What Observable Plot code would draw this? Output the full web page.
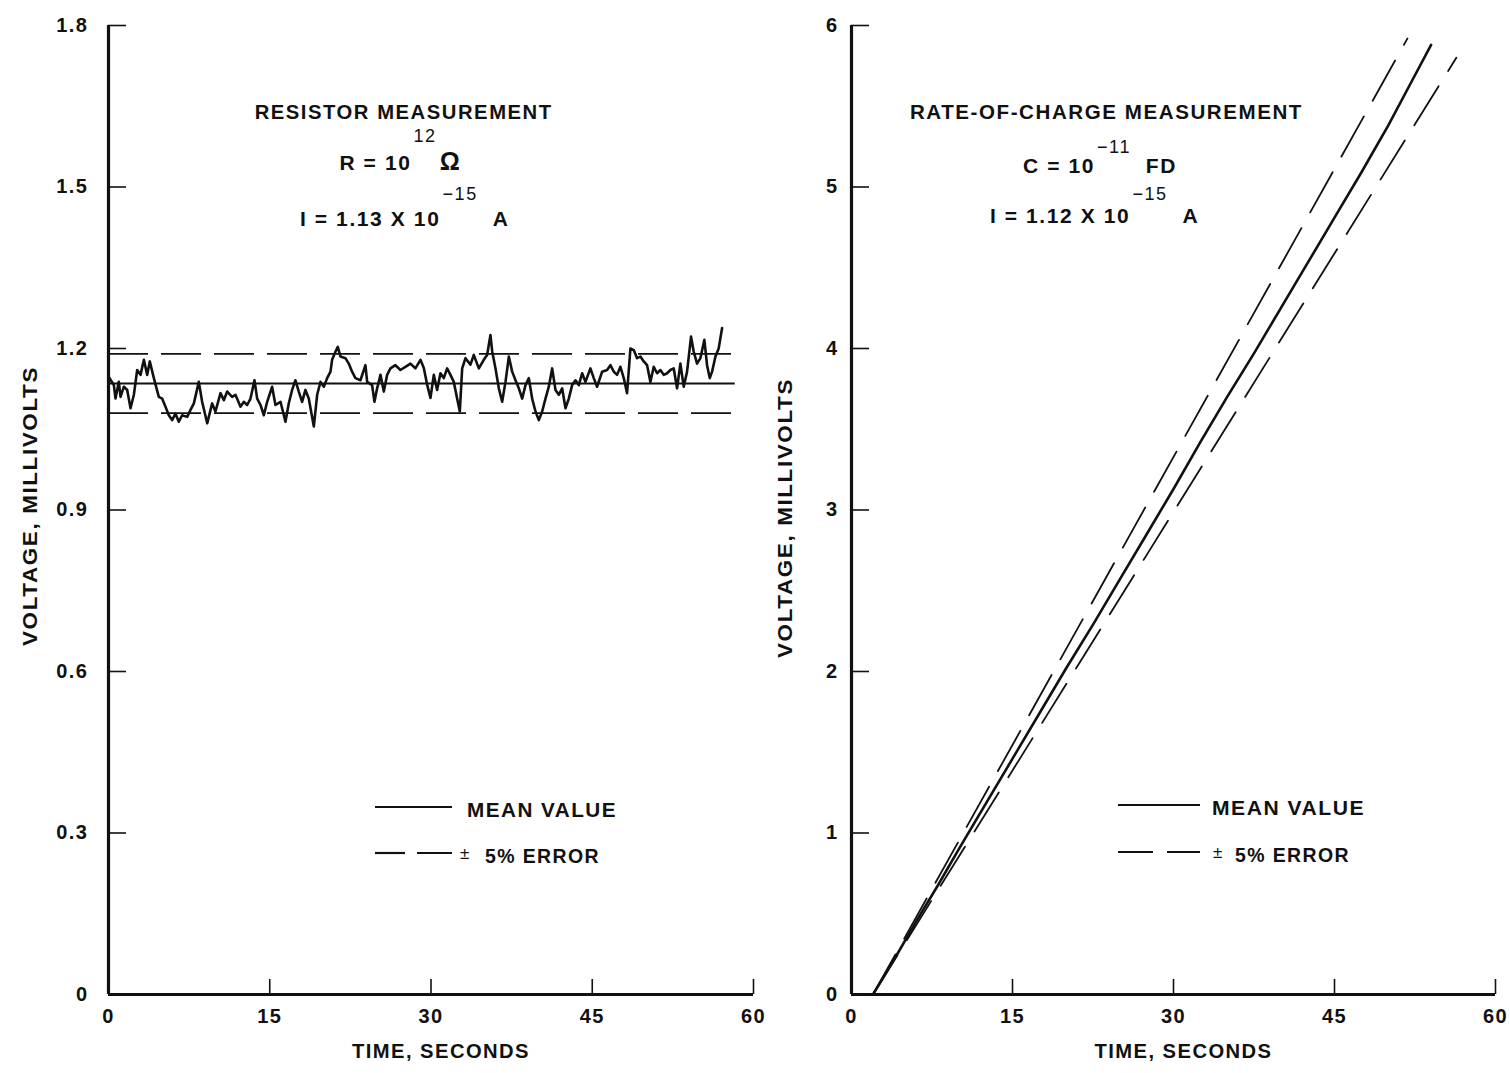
<!DOCTYPE html>
<html><head><meta charset="utf-8">
<script src="https://cdn.jsdelivr.net/npm/d3@7"></script>
<script src="https://cdn.jsdelivr.net/npm/@observablehq/plot@0.6"></script>
<style>
body{margin:0;background:#fff}
#wrap{position:relative;width:1510px;height:1073px;background:#fff;overflow:hidden}
#wrap > svg{position:absolute;top:0;background:transparent;overflow:visible;letter-spacing:1.5px}
</style></head><body><div id="wrap"></div>
<script>
const FONT = '"Liberation Sans",Arial,"Helvetica",sans-serif';
const INK = "#111";

// ---- axes ----
const xTicks = [0, 15, 30, 45, 60];
const yTicksLeft = [0, 0.3, 0.6, 0.9, 1.2, 1.5, 1.8];
const yTicksRight = [0, 1, 2, 3, 4, 5, 6];
const xLabel = "TIME, SECONDS";
const yLabel = "VOLTAGE, MILLIVOLTS";

// ---- left panel: resistor measurement (time s, voltage mV) ----
const resTime = [0.00,0.50,0.65,0.96,1.12,1.43,1.74,2.05,2.36,2.67,2.98,3.29,3.60,3.84,4.22,4.68,4.99,5.30,5.61,5.92,6.23,6.54,6.85,7.32,7.63,7.94,8.40,8.71,9.18,9.64,9.95,10.42,10.73,11.04,11.50,11.81,12.28,12.59,12.90,13.21,13.58,13.83,14.14,14.45,14.76,15.22,15.53,16.00,16.46,16.77,17.08,17.39,17.70,18.01,18.32,18.63,19.10,19.41,19.72,20.03,20.34,20.65,20.80,21.11,21.33,21.58,22.04,22.35,22.66,22.97,23.44,23.90,24.06,24.52,24.74,24.99,25.30,25.61,25.92,26.23,26.69,27.16,27.62,28.09,28.55,29.02,29.33,29.64,29.95,30.26,30.57,30.88,31.19,31.50,31.81,32.12,32.43,32.68,32.90,33.21,33.67,33.98,34.45,34.91,35.22,35.53,35.69,36.00,36.31,36.62,36.93,37.24,37.55,37.86,38.17,38.48,38.79,39.10,39.41,39.72,40.03,40.34,40.65,40.96,41.27,41.58,41.89,42.20,42.51,42.82,43.13,43.44,43.75,44.06,44.37,44.83,45.14,45.45,45.92,46.38,46.69,47.00,47.31,47.62,47.93,48.24,48.55,48.86,49.17,49.48,49.79,50.10,50.41,50.72,51.03,51.34,51.65,51.96,52.27,52.58,52.89,53.20,53.51,53.82,54.19,54.44,54.75,55.06,55.43,55.68,55.93,56.15,56.46,56.76,57.08];
const resVolt = [1.148,1.132,1.107,1.138,1.110,1.129,1.123,1.089,1.114,1.160,1.151,1.179,1.151,1.176,1.145,1.110,1.107,1.092,1.076,1.067,1.079,1.064,1.076,1.073,1.086,1.098,1.138,1.101,1.061,1.098,1.083,1.117,1.104,1.120,1.110,1.114,1.092,1.101,1.095,1.107,1.141,1.107,1.095,1.076,1.101,1.129,1.095,1.101,1.064,1.098,1.123,1.141,1.120,1.101,1.123,1.107,1.055,1.114,1.138,1.129,1.145,1.157,1.179,1.194,1.203,1.185,1.182,1.172,1.157,1.145,1.141,1.169,1.138,1.132,1.101,1.126,1.151,1.120,1.151,1.163,1.169,1.160,1.166,1.172,1.163,1.179,1.164,1.133,1.108,1.151,1.123,1.154,1.145,1.163,1.151,1.138,1.107,1.083,1.163,1.182,1.170,1.188,1.163,1.179,1.188,1.225,1.195,1.163,1.126,1.101,1.138,1.185,1.157,1.141,1.126,1.107,1.132,1.145,1.107,1.083,1.067,1.083,1.107,1.129,1.163,1.123,1.114,1.126,1.089,1.107,1.132,1.141,1.132,1.154,1.138,1.163,1.145,1.129,1.157,1.160,1.169,1.157,1.151,1.166,1.145,1.117,1.200,1.197,1.182,1.185,1.176,1.169,1.138,1.166,1.154,1.160,1.151,1.154,1.160,1.163,1.126,1.172,1.129,1.157,1.222,1.194,1.172,1.182,1.216,1.169,1.145,1.157,1.185,1.200,1.238];
const resMean = 1.135;
const resBand = [1.19, 1.08];      // ±5 %
const resLineEnd = 58.3;           // s, where mean / band lines stop

// ---- right panel: rate-of-charge measurement ----
const rocTime = [2, 4, 6, 8, 10, 12.5, 15, 17.5, 20, 22.5, 25, 27.5, 30, 32.5, 35, 37.5, 40, 42.5, 45, 47.5, 50, 52, 54];
const rocVolt = [0, 0.22, 0.45, 0.67, 0.90, 1.18, 1.46, 1.74, 2.02, 2.29, 2.57, 2.85, 3.13, 3.42, 3.70, 3.97, 4.25, 4.53, 4.81, 5.09, 5.38, 5.63, 5.88];
const rocUpperTime = [2, 51.8];
const rocUpperVolt = [0, 5.92];
const rocLowerTime = [2, 56.35];
const rocLowerVolt = [0, 5.80];

// ---- annotation texts ----
const leftNotes = [
  {x: 27.5, y: 1.625, len: 298, parts: [{t: "RESISTOR MEASUREMENT"}]},
  {x: 27.2, y: 1.530, parts: [{t: "R = 10"}, {t: "12", sup: 28}, {t: "Ω", big: true}]},
  {x: 27.6, y: 1.426, parts: [{t: "I = 1.13 X 10"}, {t: "−15", sup: 26}, {t: "\u00a0\u00a0A"}]}
];
const rightNotes = [
  {x: 23.8, y: 5.418, len: 393, parts: [{t: "RATE-OF-CHARGE MEASUREMENT"}]},
  {x: 23.2, y: 5.084, parts: [{t: "C = 10"}, {t: "−11", sup: 20}, {t: "\u00a0\u00a0FD"}]},
  {x: 22.7, y: 4.774, parts: [{t: "I = 1.12 X 10"}, {t: "−15", sup: 23}, {t: "\u00a0\u00a0A"}]}
];
const legendLabels = ["MEAN VALUE", "±", "5% ERROR"];

const resData = resTime.map((t, i) => ({t, v: resVolt[i]}));
const rocData = rocTime.map((t, i) => ({t, v: rocVolt[i]}));
const rocUpper = rocUpperTime.map((t, i) => ({t, v: rocUpperVolt[i]}));
const rocLower = rocLowerTime.map((t, i) => ({t, v: rocLowerVolt[i]}));

function notes(lines) {
  return (index, {x, y}) => {
    const g = d3.create("svg:g").attr("font-family", FONT).attr("fill", INK).attr("text-anchor", "middle");
    for (const L of lines) {
      const t = g.append("text").attr("x", x(L.x)).attr("y", y(L.y))
        .attr("font-size", 21).attr("font-weight", "bold").attr("letter-spacing", 1.6);
      if (L.len) t.attr("textLength", L.len).attr("lengthAdjust", "spacingAndGlyphs");
      let raised = 0;
      for (const p of L.parts) {
        const ts = t.append("tspan").text(p.t);
        if (p.sup) { ts.attr("dy", -p.sup).attr("font-size", 18).attr("font-weight", "normal").attr("dx", 2); raised = p.sup; }
        else if (raised) { ts.attr("dy", raised); raised = 0; }
        if (p.big) ts.attr("font-size", 25).attr("dx", 3);
      }
    }
    return g.node();
  };
}

function legend(cfg) {
  return (index, scales, values, dim) => {
    const L = dim.marginLeft, T = dim.marginTop;
    const g = d3.create("svg:g").attr("font-family", FONT).attr("fill", INK).attr("stroke", INK).attr("text-anchor", "start");
    g.append("line").attr("x1", L + cfg.x1).attr("x2", L + cfg.x2).attr("y1", T + cfg.yMean).attr("y2", T + cfg.yMean).attr("stroke-width", 2.2);
    for (const [a, b] of cfg.dashes)
      g.append("line").attr("x1", L + a).attr("x2", L + b).attr("y1", T + cfg.yErr).attr("y2", T + cfg.yErr).attr("stroke-width", 2.2);
    g.append("text").attr("stroke", "none").attr("x", L + cfg.tMean).attr("y", T + cfg.yMean + 10)
      .attr("font-size", 21).attr("font-weight", "bold").attr("textLength", cfg.lenMean).attr("lengthAdjust", "spacingAndGlyphs").text(legendLabels[0]);
    g.append("text").attr("stroke", "none").attr("x", L + cfg.tPm).attr("y", T + cfg.yErr + 6)
      .attr("font-size", 17).attr("font-weight", "normal").text(legendLabels[1]);
    g.append("text").attr("stroke", "none").attr("x", L + cfg.tErr).attr("y", T + cfg.yErr + 10)
      .attr("font-size", 21).attr("font-weight", "bold").attr("textLength", cfg.lenErr).attr("lengthAdjust", "spacingAndGlyphs").text(legendLabels[2]);
    return g.node();
  };
}

function panel({yDomain, yTicks, yFmt, yPad, yLabelDx, yLabelDy, marks, marginLeft, width, marginRight}) {
  const svg = Plot.plot({
    width, height: 1073,
    marginLeft, marginRight, marginTop: 25, marginBottom: 79,
    style: {fontFamily: FONT, color: INK, background: "transparent", overflow: "visible"},
    x: {domain: [0, 60], label: null},
    y: {domain: yDomain, label: null},
    marks: [
      ...marks,
      Plot.ruleX([0], {y1: yDomain[0], y2: yDomain[1], strokeWidth: 3.2, stroke: INK}),
      Plot.ruleY([0], {x1: 0, x2: 60, strokeWidth: 3.2, stroke: INK}),
      Plot.axisX(xTicks, {tickSize: -15, tickPadding: 29, fontSize: 20, fontWeight: "bold", strokeWidth: 1.6, label: null}),
      Plot.axisY(yTicks, {tickSize: -18, tickPadding: yPad + 18, tickFormat: yFmt, fontSize: 20, fontWeight: "bold", strokeWidth: 1.6, label: null}),
      Plot.text([yLabel], {text: d => d, frameAnchor: "left", textAnchor: "middle", dx: yLabelDx, dy: yLabelDy, rotate: -90, fontSize: 21, fontWeight: "bold"}),
      Plot.text([xLabel], {text: d => d, frameAnchor: "bottom", textAnchor: "middle", dy: 63, dx: 10, fontSize: 21, fontWeight: "bold"})
    ]
  });
  d3.select(svg).selectAll("text").each(function () {
    const s = this.textContent;
    if (s === yLabel) d3.select(this).attr("textLength", 280).attr("lengthAdjust", "spacingAndGlyphs");
    if (s === xLabel) d3.select(this).attr("textLength", 178).attr("lengthAdjust", "spacingAndGlyphs");
  });
  return svg;
}

const left = panel({
  width: 780, marginLeft: 108, marginRight: 27,
  yDomain: [0, 1.8], yTicks: yTicksLeft, yFmt: d => d === 0 ? "0" : d.toFixed(1), yPad: 20, yLabelDx: -78, yLabelDy: -4,
  marks: [
    Plot.ruleY([resMean], {x1: 0, x2: resLineEnd, stroke: INK, strokeWidth: 1.8}),
    Plot.ruleY(resBand, {x1: 0, x2: resLineEnd, stroke: INK, strokeWidth: 1.8, strokeDasharray: "40,13"}),
    Plot.line(resData, {x: "t", y: "v", stroke: INK, strokeWidth: 2.6, strokeLinejoin: "round"}),
    notes(leftNotes),
    legend({x1: 267, x2: 344, yMean: 782, yErr: 828, dashes: [[267, 297], [309, 344]], tMean: 359, lenMean: 150, tPm: 352, tErr: 377, lenErr: 115})
  ]
});
const right = panel({
  width: 770, marginLeft: 111, marginRight: 15,
  yDomain: [0, 6], yTicks: yTicksRight, yFmt: d => String(d), yPad: 13, yLabelDx: -66, yLabelDy: 8,
  marks: [
    Plot.line(rocUpper, {x: "t", y: "v", stroke: INK, strokeWidth: 1.8, strokeDasharray: "46,18"}),
    Plot.line(rocLower, {x: "t", y: "v", stroke: INK, strokeWidth: 1.8, strokeDasharray: "46,18"}),
    Plot.line(rocData, {x: "t", y: "v", stroke: INK, strokeWidth: 2.6, strokeLinejoin: "round"}),
    notes(rightNotes),
    legend({x1: 267, x2: 349, yMean: 780, yErr: 827, dashes: [[267, 302], [316, 349]], tMean: 361, lenMean: 153, tPm: 362, tErr: 384, lenErr: 115})
  ]
});
left.style.left = "0px";
right.style.left = "740px";
document.getElementById("wrap").append(left, right);
</script></body></html>
